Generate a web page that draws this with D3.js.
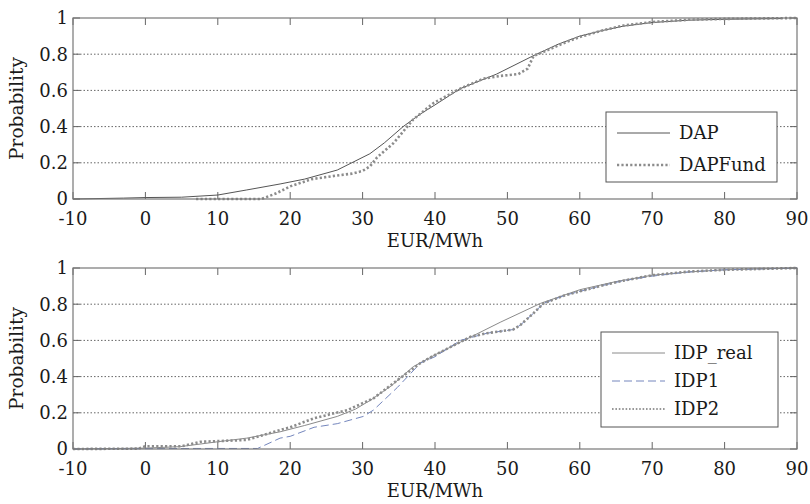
<!DOCTYPE html>
<html>
<head>
<meta charset="utf-8">
<script src="https://cdn.jsdelivr.net/npm/d3@7"></script>
<style>
  body { margin: 0; background: #fff; }
  text { font-family: "DejaVu Serif", serif; fill: #1a1a1a; }
</style>
</head>
<body>
<svg id="chart" width="810" height="504"></svg>
<script>
// tick values
var xTicks = [-10, 0, 10, 20, 30, 40, 50, 60, 70, 80, 90];
var yTicks = [0, 0.2, 0.4, 0.6, 0.8, 1];
var yLabels = ["0", "0.2", "0.4", "0.6", "0.8", "1"];

// top panel series [EUR/MWh, probability]
var dap = [[-10,0],[-3,0.005],[0,0.008],[5,0.01],[10,0.022],[14,0.05],[18.6,0.083],[22,0.11],
  [26.5,0.16],[31,0.25],[33,0.31],[35.6,0.40],[38,0.47],[40,0.52],[43.5,0.61],
  [48.5,0.69],[53.5,0.79],[57,0.855],[60,0.9],[63,0.93],[66,0.955],[70,0.975],[75,0.988],
  [80,0.993],[88,0.997]];
var dapFund = [[7,0],[16,0],[18,0.03],[20,0.07],[23,0.11],[26.5,0.13],[28.5,0.14],[30,0.155],
  [31,0.18],[32,0.23],[34.3,0.31],[37,0.44],[39.8,0.53],[43.5,0.61],[46.7,0.665],[49,0.68],
  [51.5,0.69],[52.8,0.72],[53.6,0.79],[56,0.83],[58,0.865],[60,0.895],[63,0.93],[66,0.958],
  [70,0.978],[75,0.99],[80,0.995],[90,1]];

// bottom panel series
var idpReal = [[-10,0],[0,0.005],[4.8,0.013],[10,0.04],[14,0.06],[18.6,0.095],[22,0.13],
  [26.5,0.18],[29,0.22],[31.1,0.27],[34,0.35],[37,0.455],[40,0.52],[43.5,0.59],[49,0.7],
  [54.6,0.805],[60,0.88],[65,0.925],[70,0.96],[75,0.978],[80,0.99],[90,1]];
var idp1 = [[-10,0],[7,0.003],[15.5,0.003],[18.6,0.06],[20,0.07],[23.3,0.12],[26.5,0.14],
  [30.1,0.18],[31.5,0.215],[34.8,0.34],[38,0.475],[40,0.51],[43.5,0.6],[47.2,0.64],[50.8,0.66],
  [51.8,0.685],[53.6,0.75],[55,0.805],[58,0.85],[62.8,0.9],[66,0.93],[70,0.955],[75,0.978],
  [80,0.99],[90,1]];
var idp2 = [[-10,0],[-1,0.002],[0,0.015],[5,0.015],[7.6,0.04],[14,0.05],[18.6,0.105],[20,0.12],
  [23.3,0.17],[27.9,0.215],[31.5,0.28],[34.8,0.38],[38,0.475],[40,0.52],[44.9,0.62],[47.2,0.64],
  [50.8,0.66],[51.8,0.685],[53.6,0.75],[55,0.805],[58,0.85],[62.8,0.9],[66,0.93],[70,0.96],
  [75,0.98],[80,0.99],[90,1]];

var svg = d3.select("#chart");
var left = 73, right = 797;
var fs = "18px";

var x = d3.scaleLinear().domain([-10, 90]).range([left, right]);

var styles = {
  solidDark: { stroke: "#555", width: 1, dash: null },
  solidGray: { stroke: "#8a8a8a", width: 1, dash: null },
  dotted: { stroke: "#8c8c8c", width: 2.6, dash: "2.2,2.2" },
  dashed: { stroke: "#7486bd", width: 1, dash: "8,4" },
  dottedThin: { stroke: "#777", width: 1.6, dash: "1.6,1.8" }
};

function drawPanel(top, bottom, series, legend) {
  var y = d3.scaleLinear().domain([0, 1]).range([bottom, top]);
  var g = svg.append("g");

  // dotted grid lines
  g.selectAll(".grid")
    .data(yTicks.slice(1, -1))
    .enter().append("line")
    .attr("x1", left).attr("x2", right)
    .attr("y1", function(d) { return y(d); })
    .attr("y2", function(d) { return y(d); })
    .attr("stroke", "#555")
    .attr("stroke-width", 0.9)
    .attr("stroke-dasharray", "1.5,2");

  // inward tick marks on all four sides
  var tl = 7;
  xTicks.forEach(function(t) {
    g.append("line").attr("x1", x(t)).attr("x2", x(t)).attr("y1", bottom).attr("y2", bottom - tl)
      .attr("stroke", "#666");
    g.append("line").attr("x1", x(t)).attr("x2", x(t)).attr("y1", top).attr("y2", top + tl)
      .attr("stroke", "#666");
  });
  yTicks.forEach(function(t) {
    g.append("line").attr("x1", left).attr("x2", left + tl).attr("y1", y(t)).attr("y2", y(t))
      .attr("stroke", "#666");
    g.append("line").attr("x1", right).attr("x2", right - tl).attr("y1", y(t)).attr("y2", y(t))
      .attr("stroke", "#666");
  });

  var line = d3.line()
    .x(function(d) { return x(d[0]); })
    .y(function(d) { return y(d[1]); });

  series.forEach(function(s) {
    var st = styles[s.style];
    g.append("path")
      .datum(s.data)
      .attr("d", line)
      .attr("fill", "none")
      .attr("stroke", st.stroke)
      .attr("stroke-width", st.width)
      .attr("stroke-dasharray", st.dash);
  });

  // box
  g.append("rect")
    .attr("x", left).attr("y", top)
    .attr("width", right - left).attr("height", bottom - top)
    .attr("fill", "none")
    .attr("stroke", "#777")
    .attr("stroke-width", 1.2);

  // tick labels
  g.selectAll(".xl")
    .data(xTicks)
    .enter().append("text")
    .attr("x", function(d) { return x(d); })
    .attr("y", bottom + 26)
    .attr("text-anchor", "middle")
    .style("font-size", fs)
    .text(function(d) { return d; });

  g.selectAll(".yl")
    .data(yTicks)
    .enter().append("text")
    .attr("x", left - 5)
    .attr("y", function(d) { return y(d); })
    .attr("dy", "0.36em")
    .attr("text-anchor", "end")
    .style("font-size", fs)
    .text(function(d, i) { return yLabels[i]; });

  g.append("text")
    .attr("x", (left + right) / 2)
    .attr("y", bottom + 48)
    .attr("text-anchor", "middle")
    .style("font-size", fs)
    .text("EUR/MWh");

  g.append("text")
    .attr("transform", "translate(23," + ((top + bottom) / 2) + ") rotate(-90)")
    .attr("text-anchor", "middle")
    .style("font-size", "18.5px")
    .text("Probability");

  // legend
  var lg = g.append("g");
  lg.append("rect")
    .attr("x", legend.x).attr("y", legend.y)
    .attr("width", legend.w).attr("height", legend.h)
    .attr("fill", "#fff")
    .attr("stroke", "#555")
    .attr("stroke-width", 1);
  legend.items.forEach(function(it, i) {
    var st = styles[it.style];
    var ly = legend.y + legend.first + i * legend.step;
    lg.append("line")
      .attr("x1", legend.x + 11).attr("x2", legend.x + 64)
      .attr("y1", ly).attr("y2", ly)
      .attr("stroke", st.stroke)
      .attr("stroke-width", st.width)
      .attr("stroke-dasharray", st.dash);
    lg.append("text")
      .attr("x", legend.x + 73)
      .attr("y", ly)
      .attr("dy", "0.36em")
      .style("font-size", fs)
      .text(it.name);
  });
}

drawPanel(18, 199,
  [{ data: dap, style: "solidDark" }, { data: dapFund, style: "dotted" }],
  { x: 606, y: 112, w: 171, h: 70, first: 21, step: 32,
    items: [{ name: "DAP", style: "solidDark" }, { name: "DAPFund", style: "dotted" }] });

drawPanel(268, 449,
  [{ data: idpReal, style: "solidGray" }, { data: idp1, style: "dashed" }, { data: idp2, style: "dotted" }],
  { x: 601, y: 332, w: 177, h: 95, first: 21, step: 28,
    items: [{ name: "IDP_real", style: "solidGray" }, { name: "IDP1", style: "dashed" },
            { name: "IDP2", style: "dottedThin" }] });
</script>
</body>
</html>
